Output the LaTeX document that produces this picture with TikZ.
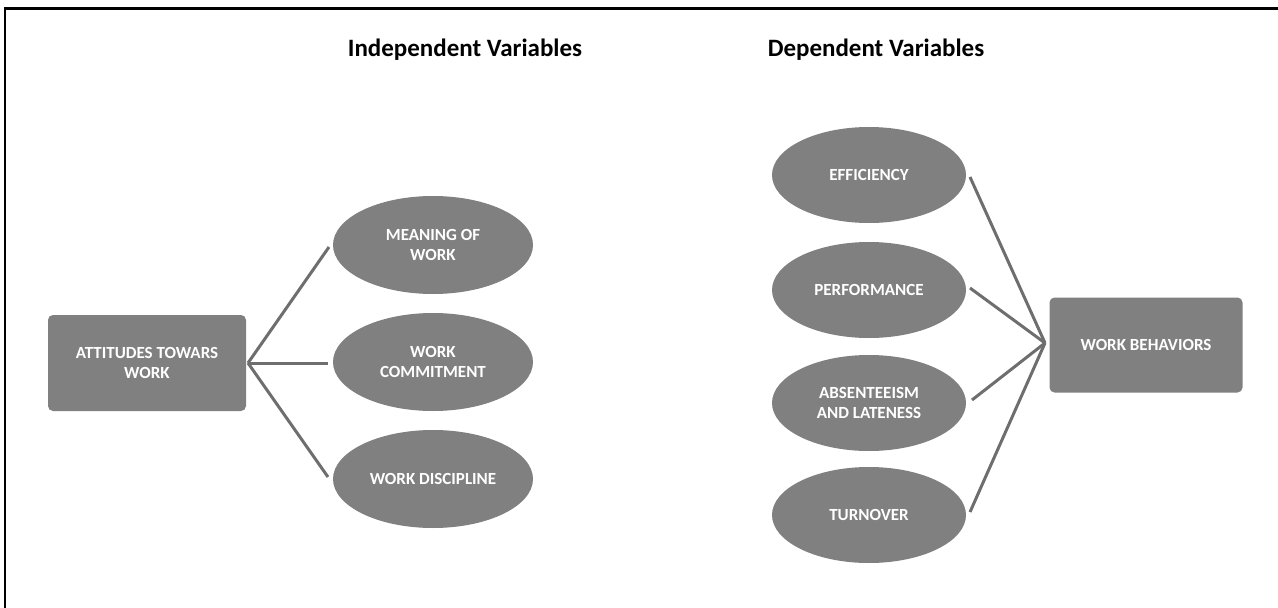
\documentclass[tikz,border=0pt]{standalone}
\usepackage{fontspec}
\setmainfont{Carlito}
\usetikzlibrary{shapes.geometric}
\definecolor{boxgray}{HTML}{808080}
\definecolor{linkgray}{HTML}{6E6E6E}
\begin{document}
\begin{tikzpicture}[x=1pt,y=-1pt,
  every node/.style={inner sep=0pt, outer sep=0pt},
  factor/.style={ellipse, fill=boxgray, minimum width=200pt, minimum height=98pt,
    text=white, font=\bfseries\fontsize{17}{19.5}\selectfont, align=center},
  block/.style={rectangle, rounded corners=5pt, fill=boxgray, minimum width=198pt,
    minimum height=96pt, text=white, font=\bfseries\fontsize{17}{19.5}\selectfont, align=center},
  heading/.style={font=\bfseries\fontsize{25}{30}\selectfont, text=black},
  link/.style={draw=linkgray, line width=3pt}]
\useasboundingbox (0,0) rectangle (1278,608);
% frame
\draw[line width=2.5pt] (5,608) -- (5,8.5) -- (1278,8.5);

% headings
\node[heading] (hind) at (465,50) {Independent Variables};
\node[heading] (hdep) at (876,50) {Dependent Variables};

% independent side
\node[block] (att) at (147,363) {ATTITUDES TOWARS\\WORK};
\node[factor] (mean) at (433,245) {MEANING OF\\WORK};
\node[factor] (comm) at (433,362) {WORK\\COMMITMENT};
\node[factor] (disc) at (433,479) {WORK DISCIPLINE};

\coordinate (hubL) at (248,363);
\draw[link] (hubL) -- (329,247);
\draw[link] (hubL) -- (328,363);
\draw[link] (hubL) -- (328,477);

% dependent side
\node[factor, minimum width=194pt, minimum height=96pt] (eff) at (869,175) {EFFICIENCY};
\node[factor, minimum width=194pt, minimum height=96pt] (perf) at (869,290) {PERFORMANCE};
\node[factor, minimum width=194pt, minimum height=96pt] (abs) at (869,403) {ABSENTEEISM\\AND LATENESS};
\node[factor, minimum width=194pt, minimum height=96pt] (turn) at (869,515) {TURNOVER};
\node[block, minimum width=193pt, minimum height=95pt] (beh) at (1146,345) {WORK BEHAVIORS};

\coordinate (hubR) at (1045,343);
\draw[link] (970,177) -- (hubR);
\draw[link] (970,288) -- (hubR);
\draw[link] (972,400) -- (hubR);
\draw[link] (970,512) -- (hubR);
\end{tikzpicture}
\end{document}
